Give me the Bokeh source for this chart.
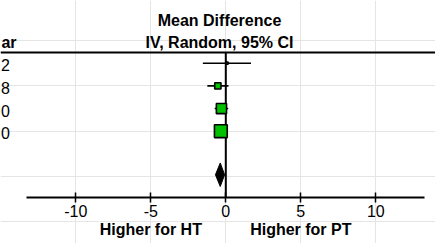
from bokeh.plotting import figure
from bokeh.models import Range1d, FixedTicker, LinearAxis, ColumnDataSource
from bokeh.core.properties import value
from bokeh.embed import file_html
from bokeh.resources import INLINE
import numpy as np

# ---- data ----
rows = [1, 2, 3, 4]
year_tail = ["2", "8", "0", "0"]          # only the visible last digit of each year
mean_diff = [0.08, -0.53, -0.29, -0.33]
ci_low = [-1.53, -1.23, -0.74, -0.70]
ci_high = [1.68, 0.18, 0.16, 0.04]
weights = [1.6, 12.5, 33.3, 52.6]

total_md = -0.37
total_low = -0.69
total_high = -0.08

ticks = [-10, -5, 0, 5, 10]
tick_labels = ["-10", "-5", "0", "5", "10"]
direction_x = [-5, 5]
direction_labels = ["Higher for HT", "Higher for PT"]
header1 = "Mean Difference"
header2 = "IV, Random, 95% CI"
year_header = "ar"                        # visible part of "Year"

# ---- layout constants ----
FONT = "Liberation Sans"
TOTAL_ROW = 5.92
AXIS_ROW = 6.924
HEADER_LINE_ROW = 0.528
BOX_SCALE = 1.765
DIAMOND_HALF = 0.52

p = figure(width=435, height=243, output_backend="svg", toolbar_location=None,
           x_range=Range1d(-15.02, 13.98), y_range=Range1d(8.953, -1.766),
           x_axis_location=None, y_axis_location=None, min_border=0,
           min_border_left=0, min_border_right=0, min_border_top=0, min_border_bottom=0)
p.outline_line_color = None
p.background_fill_color = "white"
p.border_fill_color = "white"

ax = LinearAxis(fixed_location=AXIS_ROW)
ax.ticker = FixedTicker(ticks=ticks)
ax.major_label_overrides = dict(zip(ticks, tick_labels))
ax.bounds = (-13.31, 13.25)
ax.axis_line_width = 2
ax.axis_line_color = "black"
ax.major_tick_in = 5
ax.major_tick_out = 5
ax.major_tick_line_width = 1.5
ax.major_tick_line_color = "black"
ax.minor_tick_line_color = None
ax.major_label_standoff = 2
ax.major_label_text_font = FONT
ax.major_label_text_font_size = "16px"
ax.major_label_text_color = "black"
p.add_layout(ax, "below")

# header line across the width
x0, x1 = p.x_range.start, p.x_range.end
p.segment(x0=[x0], y0=[HEADER_LINE_ROW], x1=[x1], y1=[HEADER_LINE_ROW],
          line_color="black", line_width=2)

# vertical line of no effect
p.segment(x0=[0], y0=[HEADER_LINE_ROW], x1=[0], y1=[AXIS_ROW],
          line_color="black", line_width=2)

# header texts
p.text(x=[-0.42, -0.42], y=[-0.884, 0.087], text=[header1, header2],
       text_align="center", text_baseline="middle",
       text_font=value(FONT), text_font_style="bold", text_font_size="16px",
       text_color="black")
p.text(x=[-13.95], y=[0.087], text=[year_header], text_align="right",
       text_baseline="middle", text_font=value(FONT), text_font_style="bold",
       text_font_size="16px", text_color="black")
p.text(x=[-14.4] * len(rows), y=[r + 0.1 for r in rows], text=year_tail,
       text_align="right", text_baseline="middle", text_font=value(FONT),
       text_font_size="16px", text_color="black")

# confidence intervals and boxes
src = ColumnDataSource(dict(row=rows, md=mean_diff, lo=ci_low, hi=ci_high,
                            size=[BOX_SCALE * np.sqrt(w) for w in weights]))
p.segment(x0="lo", y0="row", x1="hi", y1="row", source=src,
          line_color="black", line_width=1.6)
p.scatter(x="md", y="row", size="size", marker="square", source=src,
          fill_color="#00c000", line_color="black", line_width=1.6)

# pooled diamond
p.patch(x=[total_low, total_md, total_high, total_md],
        y=[TOTAL_ROW, TOTAL_ROW - DIAMOND_HALF, TOTAL_ROW, TOTAL_ROW + DIAMOND_HALF],
        fill_color="black", line_color="black", line_width=1)

# direction labels below the axis
p.text(x=direction_x, y=[8.33, 8.33], text=direction_labels,
       text_align="center", text_baseline="middle",
       text_font=value(FONT), text_font_style="bold", text_font_size="16px",
       text_color="black")

open("out.html", "w").write(file_html(p, INLINE))
